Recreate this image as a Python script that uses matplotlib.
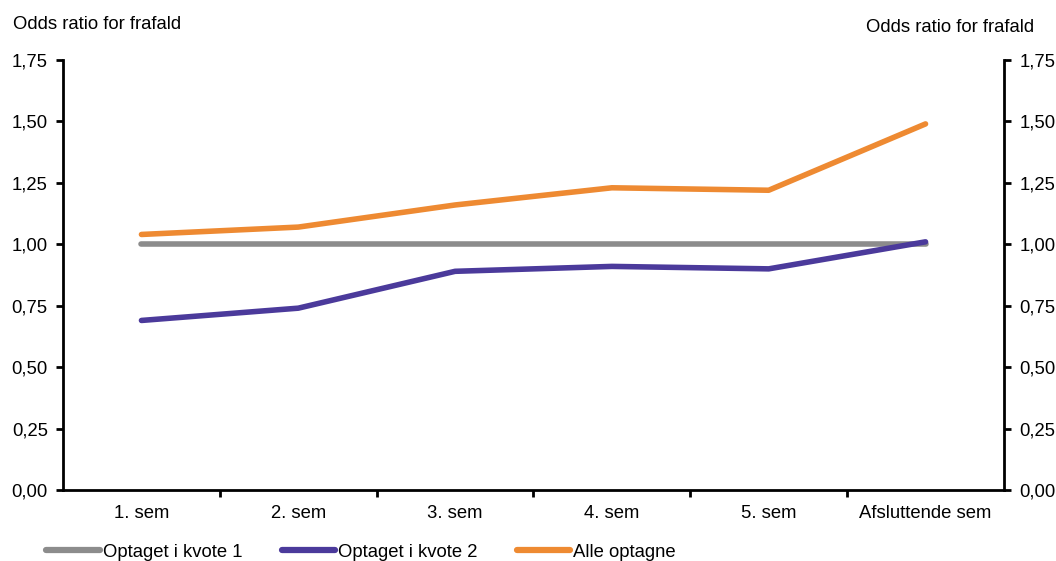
import matplotlib
matplotlib.use("Agg")
import matplotlib.pyplot as plt
from matplotlib.ticker import FuncFormatter, FixedLocator
from matplotlib.lines import Line2D

plt.rcParams["font.family"] = ["Liberation Sans", "DejaVu Sans"]

# Data
kategorier = ["1. sem", "2. sem", "3. sem", "4. sem", "5. sem", "Afsluttende sem"]
kvote1 = [1.00, 1.00, 1.00, 1.00, 1.00, 1.00]
kvote2 = [0.69, 0.74, 0.89, 0.91, 0.90, 1.01]
alle = [1.04, 1.07, 1.16, 1.23, 1.22, 1.49]
yticks = [0.0, 0.25, 0.5, 0.75, 1.0, 1.25, 1.5, 1.75]

farve_k1 = "#8c8c8c"
farve_k2 = "#4b3a9b"
farve_alle = "#ee8a32"
fs = 13.3

fig = plt.figure(figsize=(10.56, 5.61), dpi=100)
ax = fig.add_axes([0.0597, 0.1266, 0.891, 0.7664])

x = list(range(len(kategorier)))
ax.plot(x, kvote1, color=farve_k1, lw=4, solid_capstyle="round")
ax.plot(x, kvote2, color=farve_k2, lw=4, solid_capstyle="round")
ax.plot(x, alle, color=farve_alle, lw=4, solid_capstyle="round")

ax.set_xlim(-0.5, len(kategorier) - 0.5)
ax.set_ylim(0, 1.75)

fmt = FuncFormatter(lambda v, p: f"{v:.2f}".replace(".", ","))
ax.yaxis.set_major_locator(FixedLocator(yticks))
ax.yaxis.set_major_formatter(fmt)

# x: labels at centres, tick marks at band edges
ax.set_xticks(x)
ax.set_xticklabels(kategorier)
ax.tick_params(axis="x", which="major", length=0, pad=11, labelsize=fs)
ax.set_xticks([i + 0.5 for i in range(len(kategorier) - 1)], minor=True)
ax.tick_params(axis="x", which="minor", length=5, width=2, direction="out")

ax.tick_params(axis="y", length=5, width=2, direction="out", labelsize=fs, pad=6)

ax2 = ax.twinx()
ax2.set_ylim(0, 1.75)
ax2.yaxis.set_major_locator(FixedLocator(yticks))
ax2.yaxis.set_major_formatter(fmt)
ax2.tick_params(axis="y", length=5, width=2, direction="out", labelsize=fs, pad=6)

for a in (ax, ax2):
    a.spines["top"].set_visible(False)
    for s in ("left", "right", "bottom"):
        a.spines[s].set_linewidth(2)
ax.spines["right"].set_visible(False)
ax2.spines["left"].set_visible(False)
ax2.spines["bottom"].set_visible(False)
ax2.spines["right"].set_visible(True)

fig.text(0.012, 0.957, "Odds ratio for frafald", fontsize=fs, ha="left", va="center")
fig.text(0.979, 0.951, "Odds ratio for frafald", fontsize=fs, ha="right", va="center")

handles = [
    Line2D([], [], color=farve_k1, lw=4.5, solid_capstyle="round"),
    Line2D([], [], color=farve_k2, lw=4.5, solid_capstyle="round"),
    Line2D([], [], color=farve_alle, lw=4.5, solid_capstyle="round"),
]
fig.legend(handles, ["Optaget i kvote 1", "Optaget i kvote 2", "Alle optagne"],
           loc="center left", bbox_to_anchor=(0.037, 0.016), ncol=3, frameon=False,
           fontsize=fs, handlelength=2.9, handletextpad=0.15, columnspacing=2.13,
           borderaxespad=0)

fig.savefig("out.png", dpi=100)
